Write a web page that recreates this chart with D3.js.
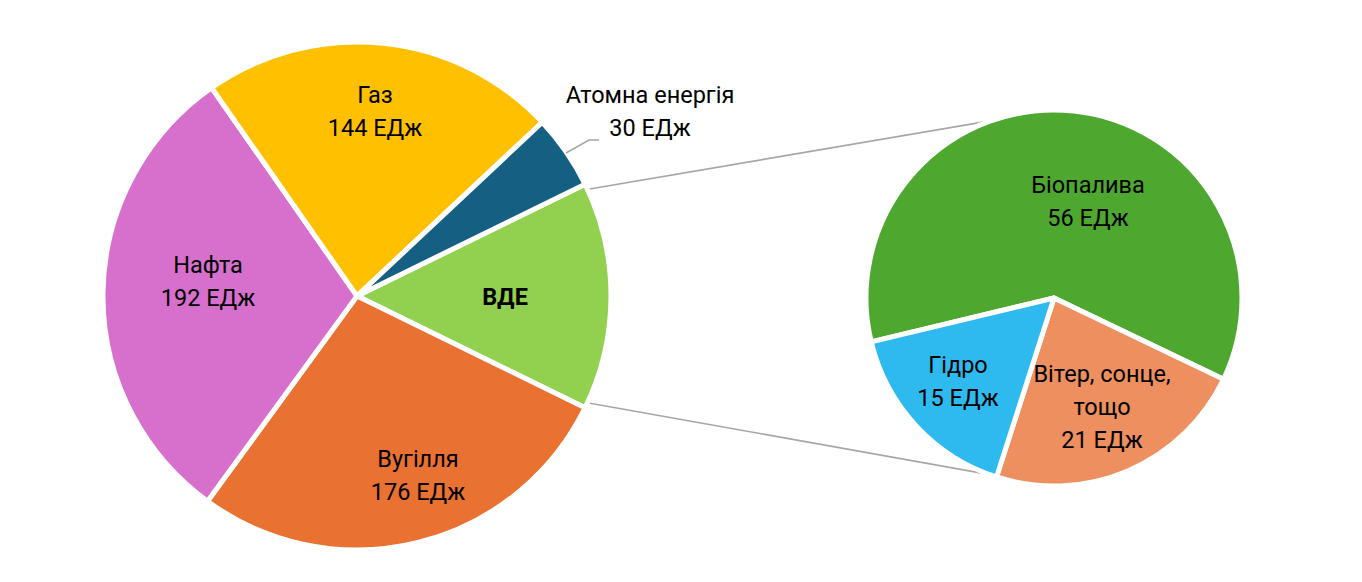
<!DOCTYPE html>
<html><head><meta charset="utf-8">
<script src="https://cdn.jsdelivr.net/npm/d3@7"></script>
<style>body{margin:0;background:#fff}svg{display:block}text{font-family:Roboto,"Noto Sans",sans-serif;font-size:23.5px;fill:#000}</style>
</head><body><svg id="c" width="1362" height="582"></svg>
<script>
const mainCategories = ["ВДЕ","Вугілля","Нафта","Газ","Атомна енергія"];
const mainValues = [92,176,192,144,30];
const mainColors = ["#92D050","#E97132","#D670CC","#FFC000","#156082"];
const subCategories = ["Біопалива","Вітер, сонце, тощо","Гідро"];
const subValues = [56,21,15];
const subColors = ["#4EA72E","#EE8F5F","#2FBAEF"];
const unit = "ЕДж";

const svg = d3.select("#c");
const deg = Math.PI/180;
const M = {cx:357, cy:296, r:254};
const S = {cx:1054, cy:298, r:188};

const total = d3.sum(mainValues);
const otherHalf = mainValues[0]/total*Math.PI;
const mainPie = d3.pie().sort(null).startAngle(Math.PI/2 - otherHalf).endAngle(Math.PI/2 - otherHalf + 2*Math.PI);
const mainArcs = mainPie(mainValues);
const subPie = d3.pie().sort(null).startAngle(-103.5*deg).endAngle(-103.5*deg + 2*Math.PI);
const subArcs = subPie(subValues);

// connector lines
const a0 = mainArcs[0];
const pt = (c, r, a) => [c.cx + r*Math.sin(a), c.cy - r*Math.cos(a)];
const p1 = pt(M, M.r - 24, a0.startAngle), p2 = pt(M, M.r - 24, a0.endAngle);
const lines = svg.append("g");
lines.append("line").attr("x1",p1[0]+4).attr("y1",p1[1]-2).attr("x2",S.cx).attr("y2",S.cy-S.r)
  .attr("stroke","#a6a6a6").attr("stroke-width",1.6);
lines.append("line").attr("x1",p2[0]+4).attr("y1",p2[1]+2).attr("x2",S.cx).attr("y2",S.cy+S.r)
  .attr("stroke","#a6a6a6").attr("stroke-width",1.6);

const arcM = d3.arc().innerRadius(0).outerRadius(M.r);
svg.append("g").attr("transform",`translate(${M.cx},${M.cy})`)
  .selectAll("path").data(mainArcs).join("path")
  .attr("d",arcM).attr("fill",(d,i)=>mainColors[i]).attr("stroke","#fff").attr("stroke-width",5).attr("stroke-linejoin","round");

const arcS = d3.arc().innerRadius(0).outerRadius(S.r);
svg.append("g").attr("transform",`translate(${S.cx},${S.cy})`)
  .selectAll("path").data(subArcs).join("path")
  .attr("d",arcS).attr("fill",(d,i)=>subColors[i]).attr("stroke","#fff").attr("stroke-width",5).attr("stroke-linejoin","round");

// leader for Атомна енергія
svg.append("polyline").attr("points","566,153 589,140 599,140").attr("fill","none").attr("stroke","#a6a6a6").attr("stroke-width",1.5);

function label(x, y, linesArr, bold){
  const t = svg.append("text").attr("text-anchor","middle").attr("x",x).attr("y",y);
  if(bold) t.attr("font-weight","bold");
  linesArr.forEach((s,i)=>t.append("tspan").attr("x",x).attr("dy",i===0?0:33).text(s));
}
const mainLabelPos = [[505,305],[418,467],[208,273],[375,103],[650,103]];
mainCategories.forEach((c,i)=>{
  if(i===0) label(mainLabelPos[i][0], mainLabelPos[i][1], [c], true);
  else label(mainLabelPos[i][0], mainLabelPos[i][1], [c, mainValues[i]+" "+unit]);
});
const subLabelPos = [[1088,193],[1102,382],[958,373]];
subCategories.forEach((c,i)=>{
  let parts = c==="Вітер, сонце, тощо" ? ["Вітер, сонце,","тощо"] : [c];
  label(subLabelPos[i][0], subLabelPos[i][1], parts.concat([subValues[i]+" "+unit]));
});
</script></body></html>
